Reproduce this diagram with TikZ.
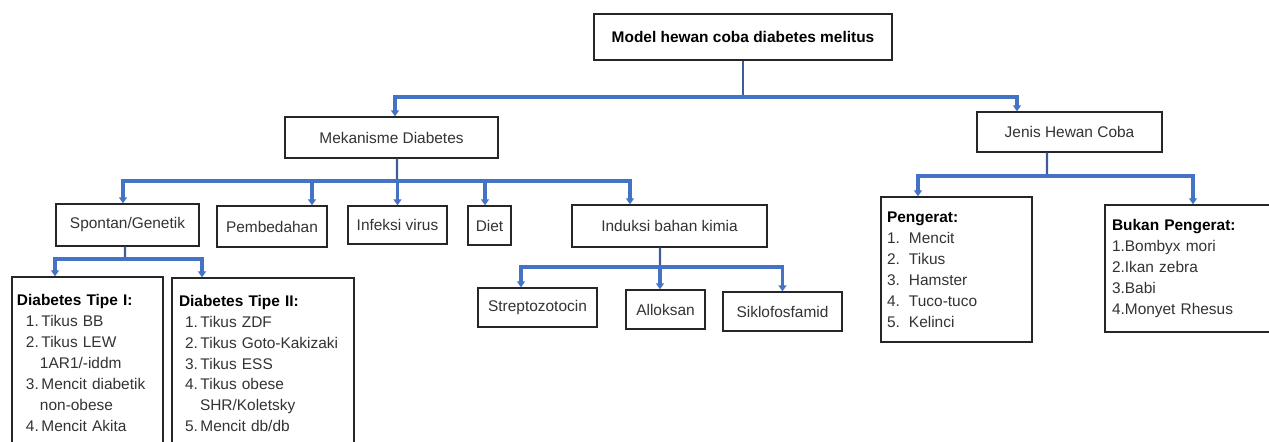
\documentclass[tikz,border=0pt]{standalone}
\usepackage{fontspec}
\setmainfont{Liberation Sans}
\usetikzlibrary{
  calc,positioning,
  arrows,arrows.meta
}
\definecolor{linkblue}{RGB}{68,114,196}
\definecolor{stemblue}{RGB}{62,92,150}

\begin{document}
\begin{tikzpicture}[x=1bp,y=-1bp,
  box/.style={draw=black!85,line width=1.4bp,fill=white,inner sep=0pt,
    font=\fontsize{15.5}{21}\selectfont,text=black!80},
  headbox/.style={box,font=\fontsize{15.5}{21}\selectfont\bfseries,text=black},
  listbox/.style={box,align=left},
  stem/.style={stemblue,line width=2.4bp},
  link/.style={linkblue,line width=3.6bp,-{Triangle[length=6bp,width=8bp]}}
]
\useasboundingbox (0,0) rectangle (1269,442);
\clip (0,0) rectangle (1269,442);

% top level
\node[headbox,minimum width=298bp,minimum height=46bp] (root) at (743,37) {Model hewan coba diabetes melitus};
\node[box,minimum width=213bp,minimum height=41bp] (mek) at (391.5,137.5) {Mekanisme Diabetes};
\node[box,minimum width=185bp,minimum height=40bp] (jenis) at (1069.5,132) {Jenis Hewan Coba};

% mekanisme
\node[box,minimum width=143bp,minimum height=42bp] (spon) at (127.5,225) {Spontan/Genetik};
\node[box,minimum width=110bp,minimum height=41bp] (pemb) at (272,226.5) {Pembedahan};
\node[box,minimum width=99bp,minimum height=38bp] (infv) at (397.5,225) {Infeksi virus};
\node[box,minimum width=43bp,minimum height=39bp] (diet) at (489.5,225.5) {Diet};
\node[box,minimum width=195bp,minimum height=42bp] (indk) at (669.5,226) {Induksi bahan kimia};

% spontan
\node[listbox,text width=141bp,minimum width=151bp,minimum height=172bp] (tipe1) at (87.5,363) {%
  \textcolor{black}{\bfseries Diabetes Tipe I:}\\
  \hspace*{9bp}1.\,Tikus BB\\
  \hspace*{9bp}2.\,Tikus LEW\\
  \hspace*{23bp}1AR1/-iddm\\
  \hspace*{9bp}3.\,Mencit diabetik\\
  \hspace*{23bp}non-obese\\
  \hspace*{9bp}4.\,Mencit Akita};
\node[listbox,text width=168bp,minimum width=182bp,minimum height=171bp] (tipe2) at (263,363.5) {%
  \textcolor{black}{\bfseries Diabetes Tipe II:}\\
  \hspace*{6bp}1.\,Tikus ZDF\\
  \hspace*{6bp}2.\,Tikus Goto-Kakizaki\\
  \hspace*{6bp}3.\,Tikus ESS\\
  \hspace*{6bp}4.\,Tikus obese\\
  \hspace*{21bp}SHR/Koletsky\\
  \hspace*{6bp}5.\,Mencit db/db};

% induksi
\node[box,minimum width=119bp,minimum height=39bp] (strep) at (537.5,307.5) {Streptozotocin};
\node[box,minimum width=79bp,minimum height=39bp] (allok) at (665.5,309.5) {Alloksan};
\node[box,minimum width=119bp,minimum height=39bp] (siklo) at (782.5,311.5) {Siklofosfamid};

% jenis hewan
\node[listbox,text width=139bp,minimum width=151bp,minimum height=145bp] (peng) at (956.5,269.5) {%
  \textcolor{black}{\bfseries Pengerat:}\\
  \makebox[22bp][l]{1.}Mencit\\
  \makebox[22bp][l]{2.}Tikus\\
  \makebox[22bp][l]{3.}Hamster\\
  \makebox[22bp][l]{4.}Tuco-tuco\\
  \makebox[22bp][l]{5.}Kelinci};
\node[listbox,text width=156bp,minimum width=170bp,minimum height=127bp] (bukan) at (1190,268.5) {%
  \textcolor{black}{\bfseries Bukan Pengerat:}\\
  1.Bombyx mori\\
  2.Ikan zebra\\
  3.Babi\\
  4.Monyet Rhesus};

% bars
\coordinate (b1) at (743,97);
\coordinate (b2) at (397,181);
\coordinate (b3) at (1047,176);
\coordinate (b4) at (125,259);
\coordinate (b5) at (660,267);

\draw[stem] (root.south) -- (b1);
\draw[stem] ([xshift=5.5bp]mek.south) -- (b2);
\draw[stem] ([xshift=-22.5bp]jenis.south) -- (b3);
\draw[stem] ([xshift=-2.5bp]spon.south) -- (b4);
\draw[stem] ([xshift=-9.5bp]indk.south) -- (b5);

\draw[link] (b1) -| ([xshift=3.5bp]mek.north);
\draw[link] (b1) -| ([xshift=-52.5bp]jenis.north);

\draw[link] (b2) -| ([xshift=-4.5bp]spon.north);
\draw[link] (b2) -| ([xshift=40bp]pemb.north);
\draw[link] (b2) -| (infv.north);
\draw[link] (b2) -| ([xshift=-4.5bp]diet.north);
\draw[link] (b2) -| ([xshift=-39.5bp]indk.north);

\draw[link] (b4) -| ([xshift=-32.5bp]tipe1.north);
\draw[link] (b4) -| ([xshift=-61bp]tipe2.north);

\draw[link] (b5) -| ([xshift=-16.5bp]strep.north);
\draw[link] (b5) -| ([xshift=-5.5bp]allok.north);
\draw[link] (b5) -| (siklo.north);

\draw[link] (b3) -| ([xshift=-38.5bp]peng.north);
\draw[link] (b3) -| ([xshift=3bp]bukan.north);
\end{tikzpicture}
\end{document}
